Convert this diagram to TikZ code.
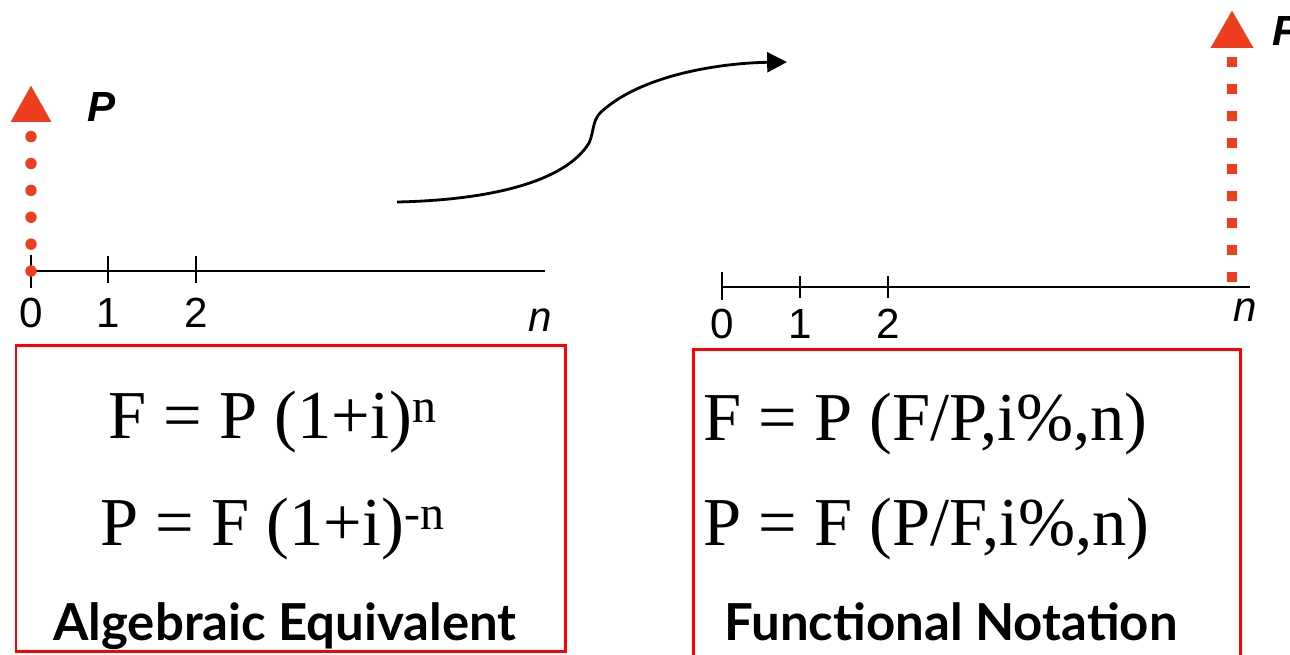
\documentclass[tikz,border=0pt]{standalone}
\usepackage{fontspec}
\setmainfont{Liberation Serif}
\setsansfont{Liberation Sans}
\newfontfamily\capfont{Lato}
\usetikzlibrary{arrows.meta}
\definecolor{flowc}{HTML}{EE3E1E}
\definecolor{boxc}{HTML}{FF0000}

\begin{document}
\begin{tikzpicture}[x=0.02cm, y=-0.02cm,
  axis/.style={line width=1.1pt},
  num/.style={font=\sffamily\fontsize{24}{28}\selectfont, inner sep=0pt},
  eqn/.style={font=\fontsize{39}{44}\selectfont, inner sep=0pt, anchor=base west},
  capt/.style={font=\capfont\bfseries\fontsize{29}{34}\selectfont, inner sep=0pt, anchor=base},
  frame/.style={draw=boxc, line width=1.7pt}]
  \useasboundingbox (0,0) rectangle (1290,654);
  % left time line
  \coordinate (l0) at (31,271); \coordinate (lend) at (545,271);
  \draw[axis] (l0) -- (lend);
  \draw[axis] (31,255) -- (31,288);
  \foreach \x in {108,196} \draw[axis] (\x,256) -- (\x,283);
  \foreach \x/\lab in {31/0,108/1,196/2} \node[num] (la\lab) at (\x,313) {\lab};
  \node[num, font=\sffamily\itshape\fontsize{24}{28}\selectfont] (lan) at (540,320) {n};
  % present amount
  \coordinate (pBot) at (31,271); \coordinate (pTop) at (31,85);
  \draw[flowc, line width=6.5pt, line cap=round, dash pattern=on 0pt off 15.3pt,
        -{Triangle[width=21.5pt, length=21pt]}] (pBot) -- (pTop);
  \node[num, font=\sffamily\bfseries\itshape\fontsize{24}{28}\selectfont] (pl) at (102,107) {P};
  % curved arrow
  \coordinate (arrS) at (397,202); \coordinate (arrE) at (787,62);
  \draw[line width=1.6pt, -{Triangle[width=11.3pt, length=11.3pt]}] (arrS)
        .. controls (490,200) and (565,182) .. (589,143)
        .. controls (594,132) and (592,122) .. (600,113)
        .. controls (640,75) and (720,63) .. (arrE);
  % right time line
  \coordinate (r0) at (722,287); \coordinate (rend) at (1250,287);
  \draw[axis] (r0) -- (rend);
  \draw[axis] (722,272) -- (722,300);
  \foreach \x in {800,888} \draw[axis] (\x,276) -- (\x,298);
  \foreach \x/\lab in {722/0,800/1,888/2} \node[num] (ra\lab) at (\x,324) {\lab};
  \node[num, font=\sffamily\itshape\fontsize{24}{28}\selectfont] (ran) at (1245,310) {n};
  % future amount
  \coordinate (fBot) at (1232,282); \coordinate (fTop) at (1232,10);
  \draw[flowc, line width=5.7pt, dash pattern=on 5.7pt off 9.6pt,
        -{Triangle[width=22.7pt, length=21.5pt]}] (fBot) -- (fTop);
  \node[num, anchor=west, font=\sffamily\bfseries\itshape\fontsize{24}{28}\selectfont] (fl) at (1272,31) {F};
  % boxes
  \draw[frame] (16,345) rectangle (565,651);
  \draw[frame] (693,349) rectangle (1240,662);
  \node[eqn] (alg1) at (108,438) {F = P (1+i)\textsuperscript{n}};
  \node[eqn] (alg2) at (100,545) {P = F (1+i)\textsuperscript{-n}};
  \node[capt] (algc) at (285,640) {Algebraic Equivalent};
  \node[eqn] (fun1) at (703,440) {F = P (F/P,i\%,n)};
  \node[eqn] (fun2) at (703,545) {P = F (P/F,i\%,n)};
  \node[capt] (func) at (951,640) {Functional Notation};
\end{tikzpicture}
\end{document}
